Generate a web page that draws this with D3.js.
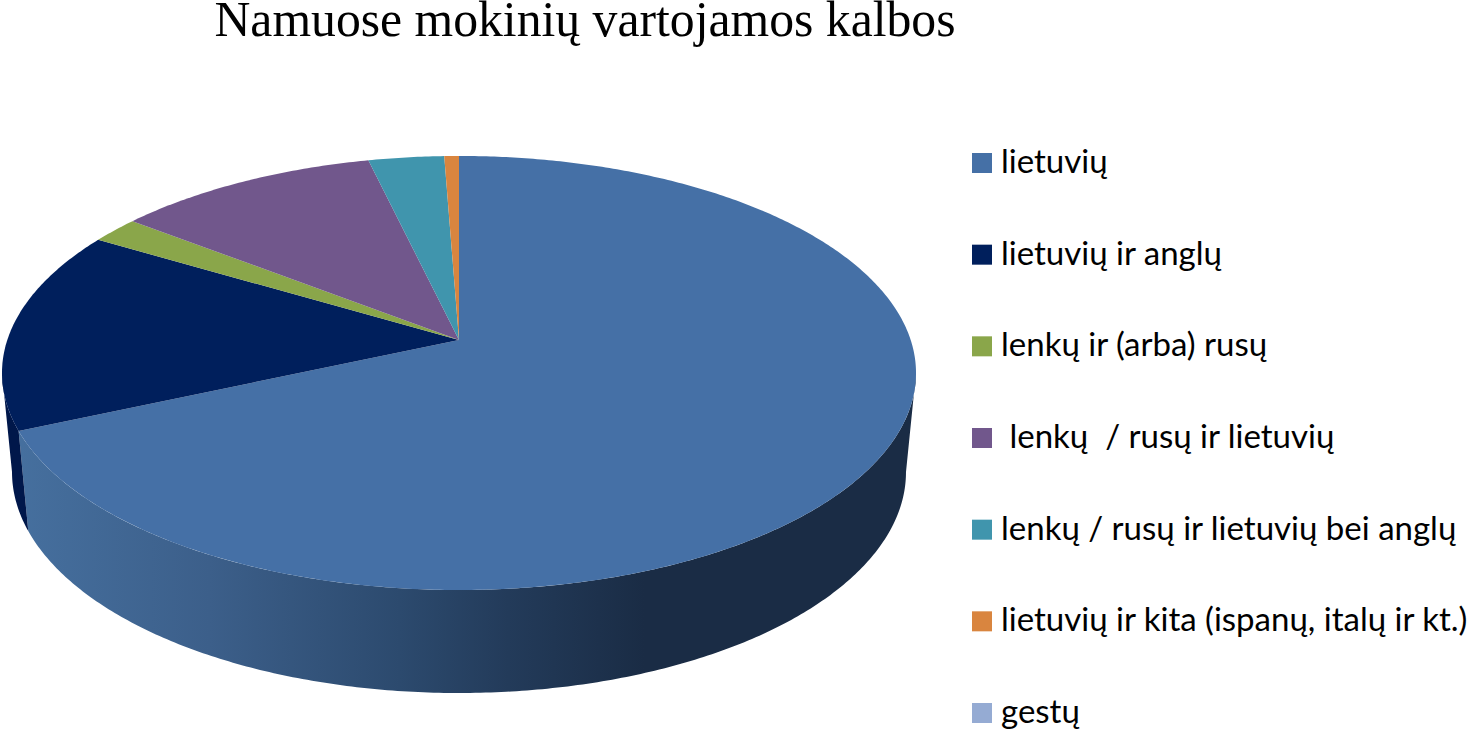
<!DOCTYPE html>
<html><head><meta charset="utf-8">
<style>html,body{margin:0;padding:0;background:#fff;overflow:hidden}svg{display:block}</style>
<script src="https://cdn.jsdelivr.net/npm/d3@7"></script></head>
<body><svg id="c" width="1473" height="730"></svg>
<script>
const categories = ["lietuvių","lietuvių ir anglų","lenkų ir (arba) rusų"," lenkų  / rusų ir lietuvių","lenkų / rusų ir lietuvių bei anglų","lietuvių ir kita (ispanų, italų ir kt.)","gestų"];
const values = [68.4,15.1,2.0,10.8,3.1,0.6,0];
const colors = ["#4570a6","#001f5c","#8aa64a","#71578c","#4095ad","#d9853f","#95abd3"];
const sideColors = ["url(#sideBlue)","#00174a","#66793a","#533f68","#2f6f80","#a0622e","#6f80a0"];
const title = "Namuose mokinių vartojamos kalbos";

const svg = d3.select("#c");
const P = 0.152, CX = 459;
const top_ = {ay:340, A:451.7, B:212};
const bot_ = {ay:438.4, A:441.8, B:215.9};
function proj(t, s){
  const x=Math.sin(s), y=Math.cos(s), w=1+P*y;
  return [CX+t.A*x/w, t.ay-t.B*y/w];
}
function arcPts(t,a0,a1){
  const n=Math.max(2,Math.ceil((a1-a0)/0.01));
  return d3.range(n+1).map(i=>proj(t,a0+(a1-a0)*i/n));
}
const line=d3.line();
const pie=d3.pie().sort(null).value(d=>d.v);
const arcs=pie(values.map((v,i)=>({v,i})));

const grad=svg.append("defs").append("linearGradient").attr("id","sideBlue")
  .attr("gradientUnits","userSpaceOnUse").attr("x1",10).attr("x2",916).attr("y1",0).attr("y2",0);
[[0,"#46709f"],[0.22,"#3c5f8a"],[0.43,"#2c4a6e"],[0.55,"#233b5a"],[0.7,"#1a2c45"],[1,"#1a2c45"]]
  .forEach(([o,c])=>grad.append("stop").attr("offset",o).attr("stop-color",c));

const thR=Math.PI-Math.acos(P), thL=Math.PI+Math.acos(P);
arcs.forEach(d=>{
  const a0=Math.max(d.startAngle,thR), a1=Math.min(d.endAngle,thL);
  if(a1<=a0) return;
  const pts=arcPts(top_,a0,a1).concat(arcPts(bot_,a0,a1).reverse());
  svg.append("path").attr("d",line(pts)+"Z").attr("fill",sideColors[d.data.i]);
});
arcs.forEach(d=>{
  if(d.endAngle<=d.startAngle) return;
  const pts=[[CX,top_.ay]].concat(arcPts(top_,d.startAngle,d.endAngle));
  svg.append("path").attr("d",line(pts)+"Z").attr("fill",colors[d.data.i]);
});

svg.append("text").attr("x",585).attr("y",36).attr("text-anchor","middle")
  .attr("font-family","'Liberation Serif',serif").attr("font-size",49.7).attr("fill","#000").text(title);

const ly=d3.scalePoint().domain(categories).range([163,713]);
const lg=svg.append("g").selectAll("g").data(categories).join("g");
lg.append("rect").attr("x",972).attr("y",d=>ly(d)-10).attr("width",20).attr("height",20)
  .attr("fill",(d,i)=>colors[i]);
lg.append("text").attr("x",1001).attr("y",d=>ly(d)+10)
  .style("white-space","pre").attr("font-family","Lato,sans-serif").attr("font-size",33).attr("fill","#000").text(d=>d);
</script></body></html>
